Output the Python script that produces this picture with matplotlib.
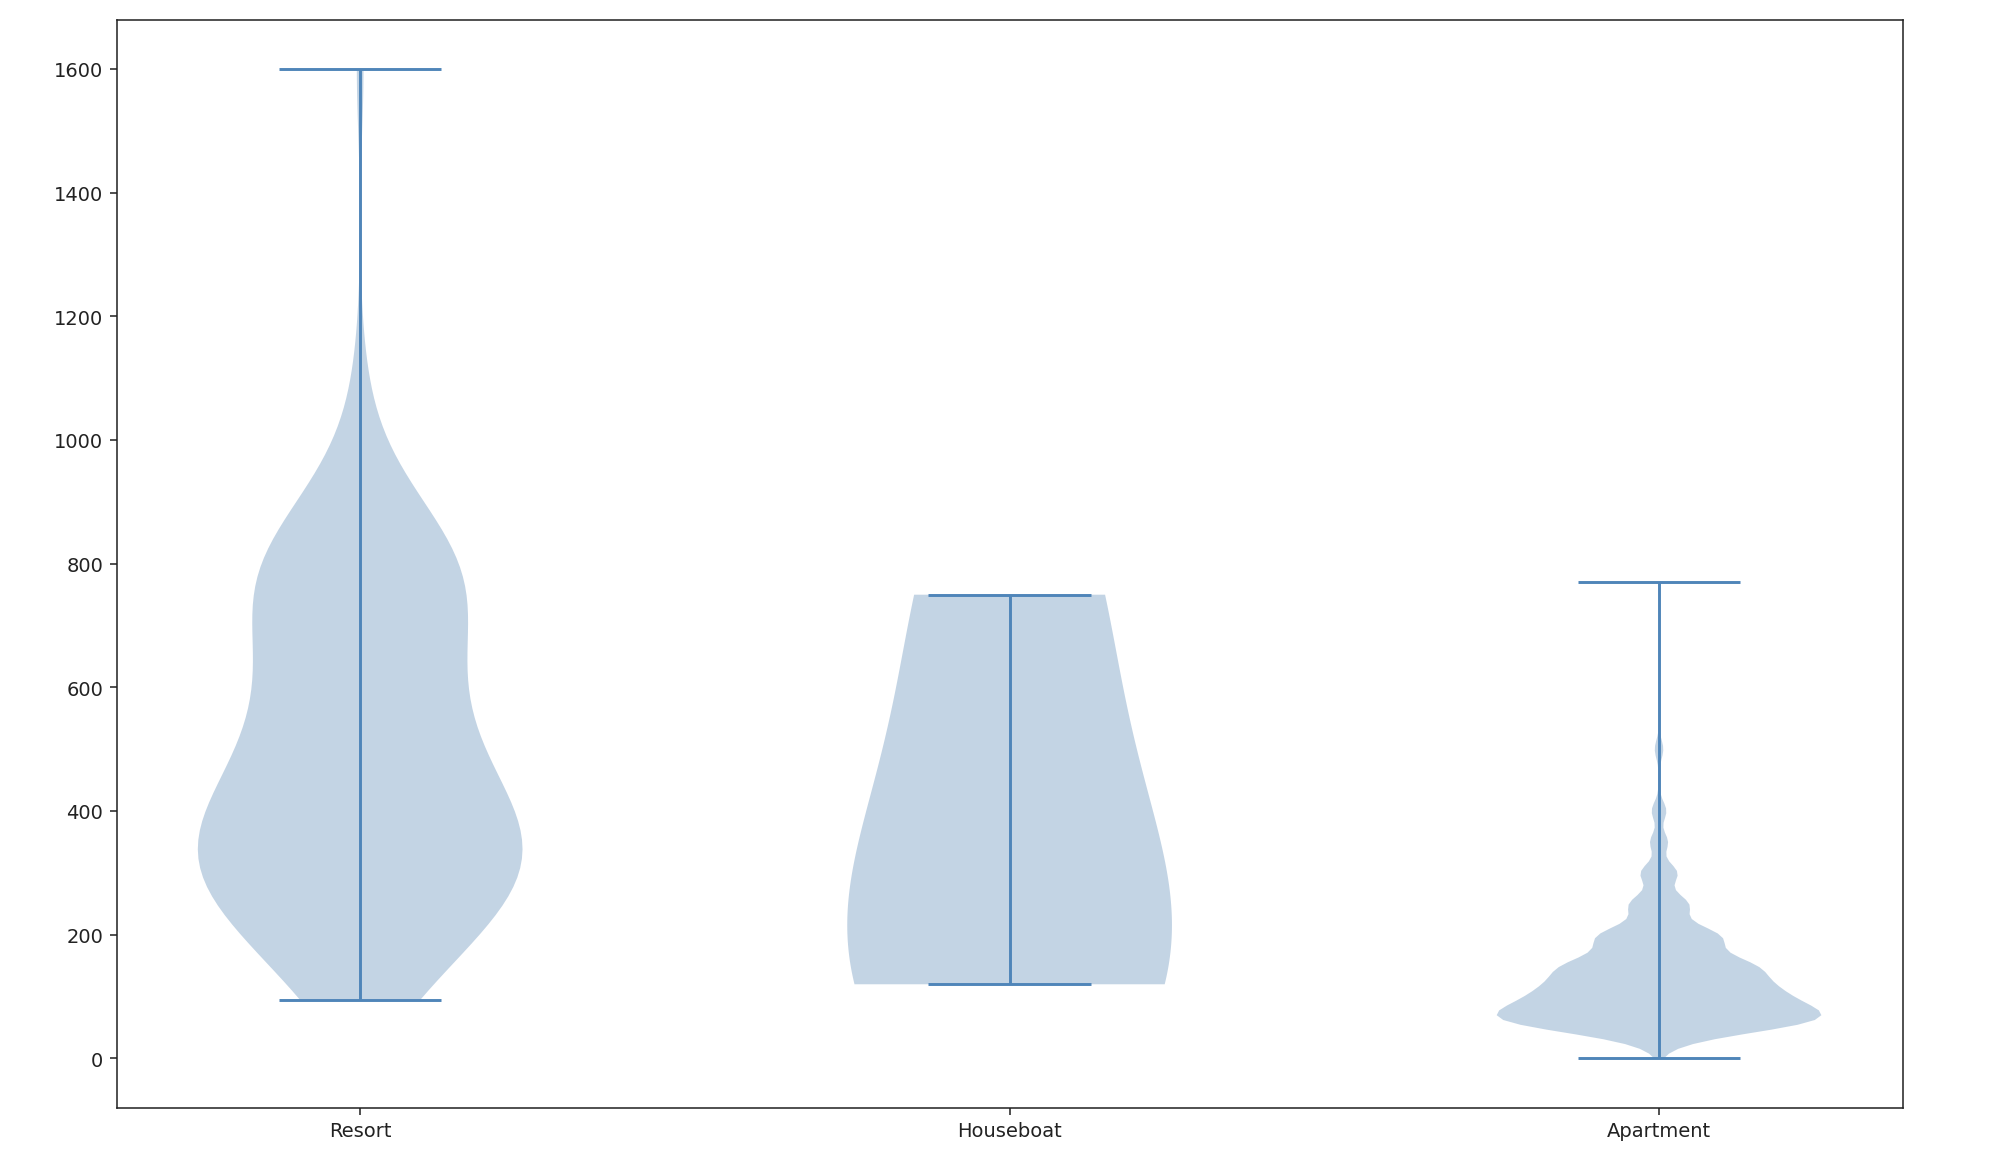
import matplotlib
matplotlib.use("Agg")
import matplotlib.pyplot as plt
import numpy as np

labels = ["Resort", "Houseboat", "Apartment"]

# price values and how often each occurs
resort_price = [95, 150, 200, 250, 300, 350, 400, 450, 500, 550, 600, 650, 700, 750,
                800, 850, 900, 950, 1000, 1100, 1600]
resort_count = [5, 5, 7, 10, 12, 12, 10, 8, 7, 6, 6, 6, 6, 8, 8, 6, 3, 2, 1, 1, 1]

houseboat_price = [120, 230, 750]
houseboat_count = [1, 1, 1]

apartment_price = [0, 10, 20, 30, 40, 50, 60, 70, 80, 90, 100, 110, 120, 130, 140, 150,
                   160, 170, 180, 190, 200, 210, 220, 230, 240, 250, 260, 270, 280, 300,
                   320, 350, 400, 450, 500, 770]
apartment_count = [3, 10, 26, 70, 160, 304, 400, 400, 340, 300, 290, 260, 260, 225, 190, 315,
                   150, 112, 130, 110, 255, 55, 55, 44, 36, 160, 20, 20, 20, 135,
                   10, 72, 60, 6, 35, 3]

data = [np.repeat(resort_price, resort_count),
        np.repeat(houseboat_price, houseboat_count),
        np.repeat(apartment_price, apartment_count)]

fig = plt.figure(figsize=(14.29, 8.37), dpi=140)
ax = fig.add_axes([0.0583, 0.0538, 0.951 - 0.0583, 0.9826 - 0.0538])
parts = ax.violinplot(data)
for body in parts["bodies"]:
    body.set_facecolor("#3a72a8")
    body.set_alpha(0.3)
for key in ["cbars", "cmins", "cmaxes"]:
    parts[key].set_color("#4f85b9")

ax.set_xticks([1, 2, 3])
ax.set_xticklabels(labels)
ax.tick_params(colors="#222222")
for sp in ax.spines.values():
    sp.set_color("#222222")

fig.savefig("out.png", dpi=140)
